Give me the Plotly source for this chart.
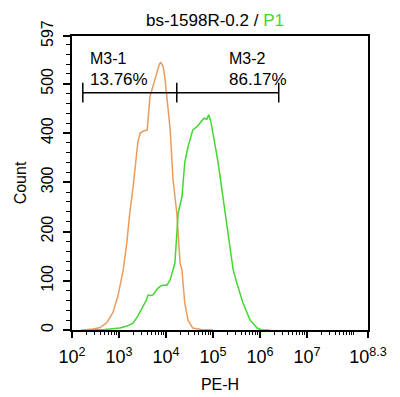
import plotly.graph_objects as go

# Orange histogram (control): log10(PE-H) and counts
orange_log = [2.20, 2.32, 2.45, 2.60, 2.74, 2.87, 2.98, 3.09, 3.17, 3.23, 3.30, 3.40, 3.45, 3.52, 3.60,
              3.66, 3.72, 3.77, 3.83, 3.86, 3.89, 3.92, 3.94, 3.98, 4.02, 4.09, 4.15, 4.23, 4.30,
              4.34, 4.40, 4.47, 4.57, 4.75, 5.0]
orange_cnt = [0, 1, 2, 5, 15, 35, 70, 122, 180, 238, 290, 380, 400, 404, 406,
              474, 495, 510, 535, 540, 543, 538, 535, 510, 474, 406, 305, 238, 136,
              122, 55, 20, 4, 1, 0]

# Green histogram (sample)
green_log = [2.40, 2.53, 2.70, 2.81, 3.02, 3.17, 3.30, 3.40, 3.51, 3.58, 3.62, 3.67, 3.72, 3.78, 3.83,
             3.90, 3.94, 4.02, 4.09, 4.19, 4.26, 4.34, 4.40, 4.47, 4.57, 4.62, 4.66, 4.72, 4.77,
             4.81, 4.87, 4.91, 4.95, 4.98, 5.00, 5.11, 5.21, 5.32, 5.43, 5.51, 5.64, 5.79, 5.94,
             6.04, 6.20]
green_cnt = [0, 0, 1, 2, 4, 8, 14, 28, 47, 60, 71, 70, 71, 80, 85,
             90, 91, 91, 102, 136, 238, 270, 340, 372, 406, 410, 413, 420, 425,
             430, 428, 437, 425, 413, 400, 340, 270, 203, 122, 95, 55, 20, 4,
             0, 0]

# Gates (log10 positions) and labels
gate_edges = [2.23, 4.23, 6.40]
gate_level = 482
gate_names = ["M3-1", "M3-2"]
gate_pcts = ["13.76%", "86.17%"]
label_log_x = [2.33, 5.29]

x_tick_exp = [2, 3, 4, 5, 6, 7, 8.3]
x_tick_text = ["10<sup>2</sup>", "10<sup>3</sup>", "10<sup>4</sup>", "10<sup>5</sup>",
               "10<sup>6</sup>", "10<sup>7</sup>", "10<sup>8.3</sup>"]
y_tick_vals = [0, 100, 200, 300, 400, 500, 597]

FONT = "Liberation Sans, Arial"

fig = go.Figure()
fig.add_trace(go.Scatter(x=[10 ** v for v in orange_log], y=orange_cnt, mode="lines",
                         line=dict(color="#EA9C5E", width=1.5), hoverinfo="skip"))
fig.add_trace(go.Scatter(x=[10 ** v for v in green_log], y=green_cnt, mode="lines",
                         line=dict(color="#44D633", width=1.5), hoverinfo="skip"))

# gate bars
gx = [10 ** v for v in gate_edges]
fig.add_trace(go.Scatter(x=[gx[0], gx[2]], y=[gate_level, gate_level], mode="lines",
                         line=dict(color="black", width=1.5), hoverinfo="skip"))
for xv in gx:
    fig.add_trace(go.Scatter(x=[xv, xv], y=[gate_level - 20, gate_level + 20], mode="lines",
                             line=dict(color="black", width=1.5), hoverinfo="skip"))

for i in range(2):
    fig.add_annotation(x=label_log_x[i], y=552, xref="x", yref="y", text=gate_names[i],
                       showarrow=False, xanchor="left", yanchor="middle",
                       font=dict(size=16, color="black", family=FONT))
    fig.add_annotation(x=label_log_x[i], y=508, xref="x", yref="y", text=gate_pcts[i],
                       showarrow=False, xanchor="left", yanchor="middle",
                       font=dict(size=17, color="black", family=FONT))

minor_x = []
for d in range(2, 8):
    for k in range(2, 10):
        v = k * 10 ** d
        if v < 10 ** 8.3:
            minor_x.append(v)
minor_x += [1e8]

fig.update_layout(
    width=392, height=389,
    margin=dict(l=64, r=32, t=28, b=67, autoexpand=False),
    paper_bgcolor="white", plot_bgcolor="white",
    showlegend=False,
    font=dict(family=FONT, color="black"),
    title=dict(text="bs-1598R-0.2 / <span style='color:#44D633'>P1</span>",
               x=0.528, xanchor="center", y=0.968, yanchor="middle",
               font=dict(size=17, color="black")),
    xaxis=dict(type="log", range=[2, 8.3], tickmode="array", automargin=False,
               tickvals=[10 ** v for v in x_tick_exp], ticktext=x_tick_text,
               ticks="outside", ticklen=6, tickwidth=1.5, tickcolor="black",
               ticklabelstandoff=4,
               showline=True, linecolor="black", linewidth=1.5, mirror=True,
               showgrid=False, zeroline=False,
               tickfont=dict(size=18),
               minor=dict(tickvals=minor_x, ticks="outside", ticklen=3,
                          tickcolor="black", tickwidth=1, showgrid=False),
               title=dict(text="PE-H", font=dict(size=16), standoff=12)),
    yaxis=dict(range=[0, 597], tickmode="array", tickvals=y_tick_vals, automargin=False,
               ticktext=[str(v) for v in y_tick_vals], tickangle=-90,
               ticks="outside", ticklen=7, tickwidth=1.5, tickcolor="black",
               ticklabelstandoff=4,
               showline=True, linecolor="black", linewidth=1.5, mirror=True,
               showgrid=False, zeroline=False,
               tickfont=dict(size=16),
               minor=dict(dtick=20, ticks="outside", ticklen=4, tickcolor="black",
                          tickwidth=1, showgrid=False),
               title=dict(text="Count", font=dict(size=16), standoff=8)),
)

fig.write_html("out.html")
